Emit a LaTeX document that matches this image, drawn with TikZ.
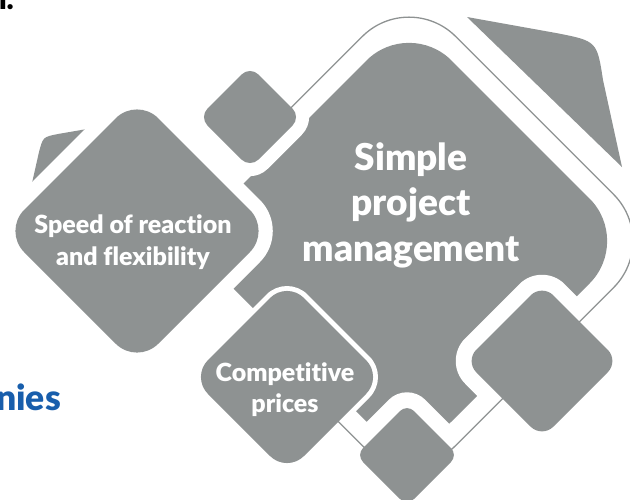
\documentclass[tikz,border=0pt]{standalone}
\usepackage{fontspec}
\setmainfont{Lato}[Ligatures=NoCommon, BoldFont={Lato Black}]
\usetikzlibrary{positioning, shapes.geometric, calc}
\definecolor{tilegrey}{RGB}{142,146,146}
\definecolor{brandblue}{RGB}{24,94,172}

\begin{document}
\begin{tikzpicture}[x=1pt, y=-1pt]
	\tikzset{tile/.style={diamond, fill=tilegrey, inner sep=0pt, outer sep=0pt},
		gap/.style={diamond, fill=white, inner sep=0pt, outer sep=0pt},
		frameline/.style={draw=tilegrey, line width=1.3pt, rounded corners=66pt},
		label/.style={text=white, align=center, inner sep=0pt}}
	\useasboundingbox (0,0) rectangle (630,499);
	\clip (0,0) rectangle (630,499);

	% pieces behind the frame
	\fill[tilegrey] (467,17) -- (556,33) .. controls (597,41) .. (603,80) -- (622,167) -- cycle;
	\fill[tilegrey] (87,129) -- (58,134) .. controls (43,137) .. (39,152) -- (32,183) -- cycle;

	\node[tile, minimum size=446pt, rounded corners=60pt] (core) at (409,241) {};
	\node[diamond, inner sep=0pt, minimum size=502pt] (frame) at (409,241) {};

	% white gaps round the tiles
	\node[gap, minimum size=308pt, rounded corners=44pt] (speedgap) at (137,231) {};
	\node[gap, minimum size=139pt, rounded corners=25pt] (topgap) at (250,117) {};
	\node[gap, minimum size=206pt, rounded corners=29pt] (pricegap) at (287,377) {};
	\node[gap, minimum size=199pt, rounded corners=32pt] (rightgap) at (542,361) {};
	\node[gap, minimum size=147pt, rounded corners=26pt] (bottomgap) at (407,455) {};

	\draw[frameline] ($(frame.north)!0.54!(frame.west)$) -- (frame.north) -- (frame.east)
		-- (frame.south) -- ($(frame.south)!0.43!(frame.west)$);

	\node[tile, minimum size=268pt, rounded corners=30pt] (speed) at (137,231) {};
	\node[tile, minimum size=102pt, rounded corners=12pt] (topsq) at (250,117) {};
	\node[tile, minimum size=192pt, rounded corners=24pt] (price) at (287,377) {};
	\node[tile, minimum size=154pt, rounded corners=16pt] (rightsq) at (542,361) {};
	\node[tile, minimum size=102pt, rounded corners=10pt] (bottomsq) at (407,455) {};

	\node[label, font=\bfseries\fontsize{37}{45.5}\selectfont] (corelabel) at (411,205) {Simple\\project\\management};
	\node[label, font=\bfseries\fontsize{25}{31.5}\selectfont] (speedlabel) at (133,242) {Speed of reaction\\and flexibility};
	\node[label, font=\bfseries\fontsize{25}{31}\selectfont] (pricelabel) at (285,390) {Competitive\\prices};

	\node[font=\bfseries\fontsize{35.5}{40}\selectfont, text=brandblue, anchor=base west, inner sep=0pt] (tailword) at (-4,410) {nies};
	\node[font=\bfseries\fontsize{30}{36}\selectfont, anchor=base east, inner sep=0pt] (headword) at (14,9) {n.};
\end{tikzpicture}
\end{document}
